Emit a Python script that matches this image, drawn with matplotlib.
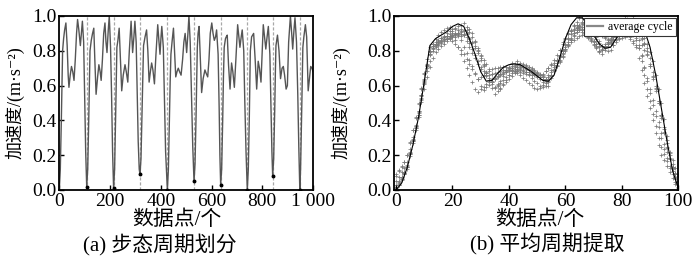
import numpy as np
import matplotlib
matplotlib.use("Agg")
import matplotlib.pyplot as plt
from matplotlib.lines import Line2D

FAM = ['Liberation Serif', 'Noto Sans CJK SC', 'DejaVu Sans']

# ---- panel (a): gait signal keypoints (data index, acceleration) ----
sig_x = [0, 4, 8, 11, 13, 17, 21, 26, 31, 35, 38, 43, 48, 53, 58, 63, 68, 72, 77, 83, 87, 91, 96, 100, 104,
         108, 112, 116, 119, 121, 126, 131, 136, 140, 145, 151, 156, 161, 165, 170, 175, 180, 184, 188, 193, 197, 202, 206, 210,
         214, 218, 222, 225, 227, 231, 236, 241, 246, 252, 259, 264, 270, 276, 283, 289, 294, 298, 303, 307, 311, 315,
         318, 322, 326, 329, 332, 338, 344, 349, 354, 359, 364, 369, 375, 381, 388, 393, 397, 401, 404, 410, 414, 419,
         426, 430, 434, 437, 440, 445, 450, 454, 459, 464, 469, 474, 480, 486, 491, 496, 502, 507, 511, 516, 521, 526,
         531, 535, 539, 542, 544, 547, 551, 556, 561, 567, 574, 579, 585, 590, 595, 601, 606, 611, 616, 620, 626, 630, 633,
         636, 640, 644, 647, 650, 655, 658, 662, 667, 673, 679, 684, 690, 696, 703, 708, 712, 717, 721, 727, 731, 736,
         741, 745, 749, 751, 753, 758, 766, 772, 778, 784, 789, 795, 800, 804, 809, 814, 819, 824, 830, 834, 838,
         841, 845, 849, 852, 854, 860, 866, 872, 878, 883, 888, 894, 899, 904, 911, 916, 920, 925, 929, 935, 940, 944,
         948, 951, 955, 958, 960, 964, 970, 975, 981, 986, 991, 996, 1000]
sig_y = [0.0, 0.12, 0.4, 0.65, 0.8, 0.87, 0.92, 0.96, 0.83, 0.66, 0.59, 0.66, 0.71, 0.68, 0.63, 0.75, 0.9, 0.98, 0.92, 0.83, 0.9, 0.97, 0.85, 0.55, 0.22,
         0.02, 0.12, 0.4, 0.65, 0.8, 0.86, 0.9, 0.93, 0.75, 0.55, 0.65, 0.72, 0.68, 0.63, 0.75, 0.9, 0.96, 0.85, 0.79, 0.92, 1.0, 0.82, 0.55, 0.22,
         0.01, 0.12, 0.42, 0.68, 0.82, 0.86, 0.93, 0.75, 0.57, 0.66, 0.72, 0.68, 0.62, 0.8, 0.97, 0.79, 0.88, 0.97, 0.85, 0.55, 0.28, 0.12,
         0.09, 0.18, 0.45, 0.68, 0.83, 0.88, 0.92, 0.8, 0.62, 0.68, 0.73, 0.69, 0.61, 0.78, 0.95, 0.85, 0.78, 0.88, 0.94, 0.82, 0.55, 0.22,
         0.0, 0.12, 0.4, 0.62, 0.78, 0.86, 0.93, 0.8, 0.65, 0.68, 0.7, 0.68, 0.66, 0.75, 0.85, 0.9, 0.79, 0.9, 1.0, 0.85, 0.55, 0.25,
         0.05, 0.15, 0.42, 0.68, 0.82, 0.9, 0.94, 0.75, 0.56, 0.64, 0.69, 0.67, 0.65, 0.75, 0.9, 0.96, 0.9, 0.86, 0.88, 0.92, 0.78, 0.48, 0.2,
         0.03, 0.12, 0.4, 0.65, 0.82, 0.87, 0.88, 0.89, 0.72, 0.58, 0.73, 0.68, 0.59, 0.75, 0.95, 0.88, 0.82, 0.88, 0.92, 0.8, 0.52, 0.22,
         0.0, 0.12, 0.42, 0.62, 0.8, 0.88, 0.9, 0.75, 0.58, 0.74, 0.7, 0.62, 0.8, 0.95, 0.88, 0.81, 0.88, 0.94, 0.78, 0.5, 0.22,
         0.08, 0.18, 0.45, 0.7, 0.83, 0.89, 0.8, 0.64, 0.7, 0.71, 0.66, 0.58, 0.6, 0.85, 1.0, 0.9, 0.81, 0.92, 0.99, 0.85, 0.55, 0.25,
         0.0, 0.12, 0.42, 0.68, 0.82, 0.88, 0.95, 0.88, 0.57, 0.64, 0.71, 0.7, 0.68]

# detected cycle boundaries (minima)
dip_x = [108, 214, 318, 426, 531, 636, 741, 841, 948]
dip_y = [0.02, 0.01, 0.09, 0.0, 0.05, 0.03, 0.0, 0.08, 0.0]
cycle_starts = [0, 108, 214, 318, 426, 531, 636, 741, 841]
cycle_ends = [108, 214, 318, 426, 531, 636, 741, 841, 948]

# ---- panel (b): average cycle ----
avg_x = list(range(0, 101, 2))
avg_y = [0.00, 0.04, 0.13, 0.26, 0.42, 0.62, 0.83, 0.87, 0.89, 0.91, 0.94, 0.955, 0.94, 0.87, 0.78, 0.68,
         0.625, 0.63, 0.67, 0.705, 0.72, 0.725, 0.72, 0.70, 0.68, 0.655, 0.63, 0.625, 0.66, 0.76, 0.87,
         0.95, 0.99, 0.99, 0.95, 0.89, 0.84, 0.815, 0.82, 0.87, 0.92, 0.945, 0.955, 0.955, 0.92, 0.82,
         0.66, 0.47, 0.28, 0.11, 0.01]

xticks_a = [0, 200, 400, 600, 800, 1000]
xtick_labels_a = ['0', '200', '400', '600', '800', '1 000']
xticks_b = [0, 20, 40, 60, 80, 100]
yticks = [0.0, 0.2, 0.4, 0.6, 0.8, 1.0]
ylabel = '加速度/(m·s⁻²)'
xlabel = '数据点/个'
caption_a = '(a) 步态周期划分'
caption_b = '(b) 平均周期提取'
legend_label = 'average cycle'

fig = plt.figure(figsize=(7.0, 2.62), dpi=100)
W, H = 700, 262
axA = fig.add_axes([59.3 / W, 1 - 190 / H, (313 - 59.3) / W, 174 / H])
axB = fig.add_axes([394.3 / W, 1 - 190 / H, (678.3 - 394.3) / W, 174 / H])

# panel a
for xd in dip_x:
    axA.axvline(xd, color='#a8a8a8', lw=0.9, ls=(0, (2.5, 1.5)), zorder=1)
axA.plot(sig_x, sig_y, color='#555555', lw=1.0, zorder=2)
axA.plot(dip_x, dip_y, 'o', color='black', ms=1.8, zorder=3)
axA.set_xlim(0, 1000)
axA.set_ylim(0, 1.0)
axA.set_xticks(xticks_a)
axA.set_xticklabels(xtick_labels_a)

# panel b: individual cycles resampled on 0..100
t = np.arange(0, 101)
for s, e in zip(cycle_starts, cycle_ends):
    xs = s + t * (e - s) / 100.0
    ys = np.interp(xs, sig_x, sig_y)
    axB.plot(t, ys, '+', color='#7a7a7a', ms=3.0, mew=0.55, zorder=1)
axB.plot(avg_x, avg_y, color='black', lw=0.8, zorder=3)
axB.set_xlim(-0.6, 100)
axB.set_ylim(0, 1.0)
axB.set_xticks(xticks_b)
h = [Line2D([0], [0], color='#888888', lw=1.6)]
leg = axB.legend(h, [legend_label], loc='upper right', frameon=True, fancybox=False,
                 borderpad=0.25, handlelength=1.3, handletextpad=0.5, borderaxespad=0.2,
                 prop={'family': 'Liberation Serif', 'size': 8.5})
leg.get_frame().set_edgecolor('#333333')
leg.get_frame().set_linewidth(0.8)
leg.get_frame().set_alpha(1)

for ax in (axA, axB):
    ax.set_yticks(yticks)
    ax.set_yticklabels(['%.1f' % v for v in yticks])
    ax.tick_params(direction='in', length=3.5, width=1.0, top=False, right=False, pad=2)
    for lab in ax.get_xticklabels() + ax.get_yticklabels():
        lab.set_family(FAM)
        lab.set_fontsize(14)
    for sp in ax.spines.values():
        sp.set_linewidth(1.3)
        sp.set_color('black')
    ax.set_ylabel(ylabel, family=FAM, fontsize=13)

axA.yaxis.set_label_coords(-0.137, 0.5)
axB.yaxis.set_label_coords(-0.154, 0.5)

fig.text(177 / W, 1 - 220 / H, xlabel, family=FAM, fontsize=15, ha='center', va='center')
fig.text(540 / W, 1 - 220 / H, xlabel, family=FAM, fontsize=15, ha='center', va='center')
fig.text(160 / W, 1 - 244 / H, caption_a, family=FAM, fontsize=15, ha='center', va='center')
fig.text(547 / W, 1 - 244 / H, caption_b, family=FAM, fontsize=15, ha='center', va='center')

fig.savefig('out.png', dpi=100)
